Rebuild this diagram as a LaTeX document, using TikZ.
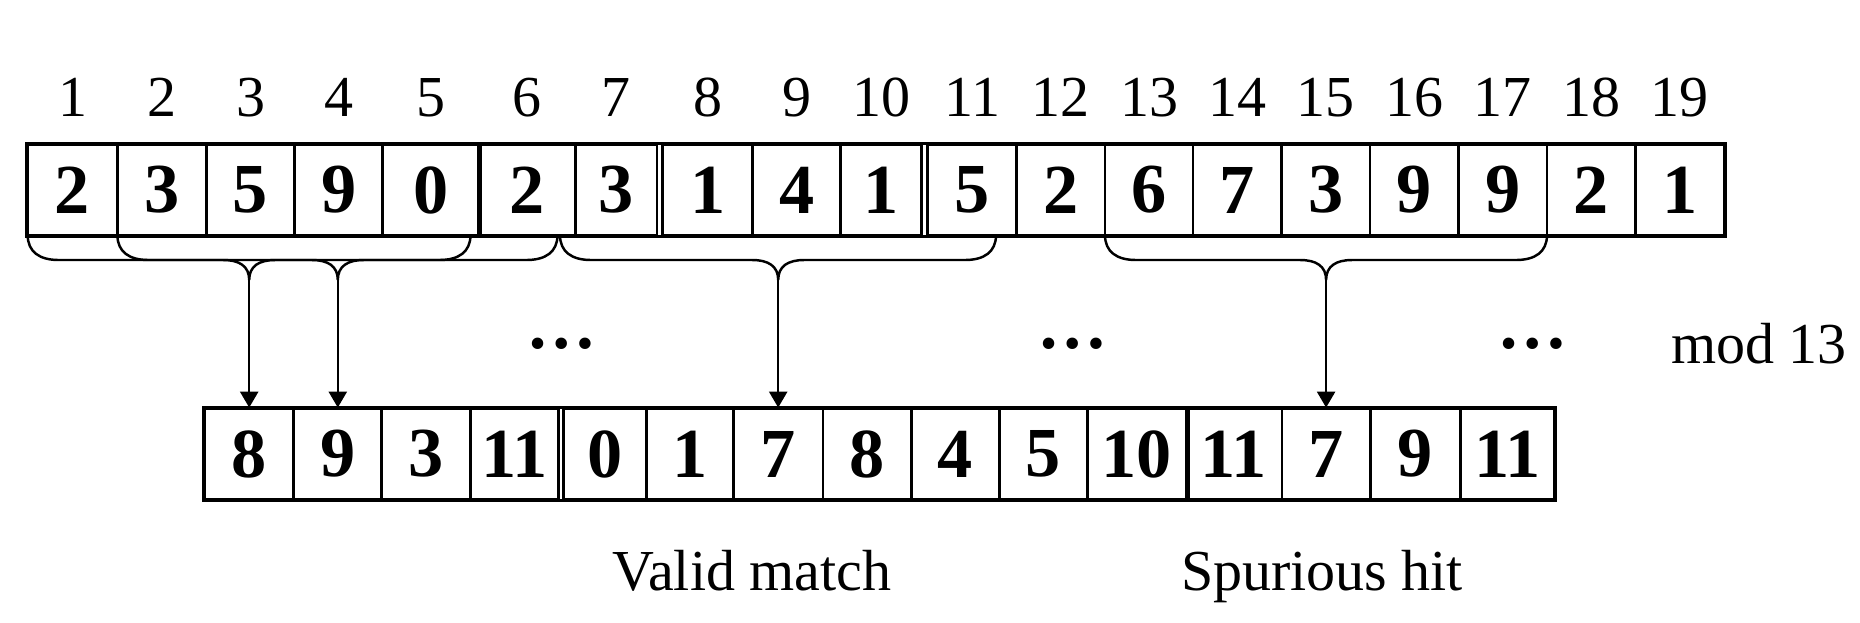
\documentclass[tikz,border=0pt]{standalone}
\usepackage{fontspec}
\setmainfont{Liberation Serif}
\usetikzlibrary{arrows.meta}
\tikzset{
  cell/.style={draw, line width=0.8pt, inner sep=0pt, minimum height=9mm,
    font=\bfseries\fontsize{20}{24}\selectfont},
  frame/.style={draw, line width=0.8pt},
  idx/.style={anchor=base, inner sep=0pt, font=\fontsize{16.5}{20}\selectfont},
  lbl/.style={anchor=base, inner sep=0pt, font=\fontsize{16.5}{20}\selectfont},
  dotsnode/.style={anchor=base, inner sep=0pt, font=\bfseries\fontsize{20}{24}\selectfont},
  bracestyle/.style={draw, line width=0.7pt},
  arrowstyle/.style={draw, line width=0.7pt, -{Triangle[width=1.8mm,length=1.6mm]}}
}
\newcommand\mybrace[3]{%
  \draw[bracestyle] (#1,235) .. controls (#1,252) and (#1+12,260) .. (#1+31,260)
    -- (#3-26,260) .. controls (#3-10,260) and (#3,266) .. (#3,280)
    .. controls (#3,266) and (#3+10,260) .. (#3+26,260)
    -- (#2-31,260) .. controls (#2-12,260) and (#2,252) .. (#2,235);}
\begin{document}
\begin{tikzpicture}[x=0.1mm,y=-0.1mm]
\useasboundingbox (0,0) rectangle (1860,622);
% top row
\foreach \l/\r/\t [count=\i] in {27.7/117.4/2, 117.4/206.4/3, 206.4/294.6/5, 294.6/382.8/9,
  382.8/478.5/0, 478.5/575.8/2, 575.8/656.9/3, 662.8/752.6/1, 752.6/840.7/4,
  840.7/921.8/1, 927.7/1016.7/5, 1016.7/1105/2, 1105/1193/6, 1193/1281.8/7,
  1281.8/1370/3, 1370/1458.7/9, 1458.7/1547/9, 1547/1635.6/2, 1635.6/1724.3/1} {
  \pgfmathsetmacro\w{(\r-\l)*0.1}
  \node[cell, minimum width=\w mm] (t\i) at ({(\l+\r)/2},190) {\t};
  \node[idx] (n\i) at ({(\l+\r)/2},116) {\i};
}
\draw[frame] (t1.north west) rectangle (t19.south east);
\draw[line width=1.3pt] (t5.north east) -- (t5.south east);
% bottom row
\foreach \l/\r/\t [count=\i] in {204.6/293.8/8, 293.8/381.8/9, 381.8/470.2/3, 470.2/558.6/11,
  563.9/646.5/0, 646.5/733.6/1, 733.6/822.9/7, 822.9/911.3/8, 911.3/999.3/4,
  999.3/1087.7/5, 1087.7/1185.9/10, 1185.9/1281.9/11, 1281.9/1370.3/7,
  1370.3/1460.4/9, 1460.4/1554.2/11} {
  \pgfmathsetmacro\w{(\r-\l)*0.1}
  \node[cell, minimum width=\w mm] (b\i) at ({(\l+\r)/2},454) {\t};
}
\draw[frame] (b1.north west) rectangle (b15.south east);
\draw[line width=1.3pt] (b11.north east) -- (b11.south east);
% braces
\mybrace{27.7}{470.5}{249.2}
\mybrace{117.4}{557.5}{337.8}
\mybrace{560}{996}{778.2}
\mybrace{1105}{1547}{1326.1}
\coordinate (tA) at (249.2,280);
\coordinate (tB) at (337.8,280);
\coordinate (tC) at (778.2,280);
\coordinate (tD) at (1326.1,280);
\draw[arrowstyle] (tA) -- (tA |- b1.north);
\draw[arrowstyle] (tB) -- (tB |- b2.north);
\draw[arrowstyle] (tC) -- (tC |- b7.north);
\draw[arrowstyle] (tD) -- (tD |- b13.north);
% dots and labels
\node[dotsnode] (d1) at (562,348) {…};
\node[dotsnode] (d2) at (1073,348) {…};
\node[dotsnode] (d3) at (1533,348) {…};
\node[lbl] (mod) at (1759,363) {mod 13};
\node[lbl] (valid) at (752,590) {Valid match};
\node[lbl] (spur) at (1322,590) {Spurious hit};
\end{tikzpicture}
\end{document}
